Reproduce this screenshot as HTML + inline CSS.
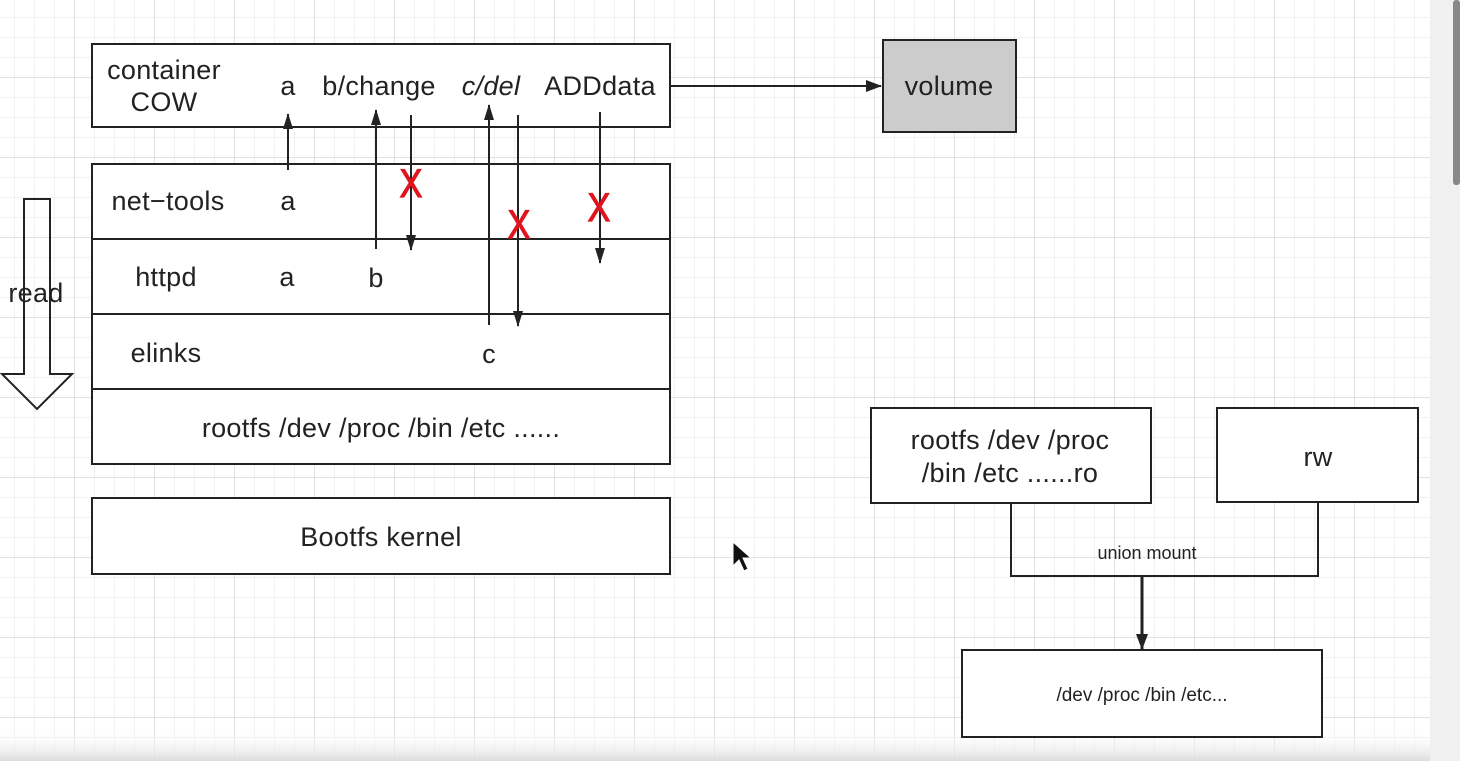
<!DOCTYPE html>
<html><head><meta charset="utf-8"><style>
html,body{margin:0;padding:0;}
body{width:1460px;height:761px;overflow:hidden;background:#fff;font-family:"Liberation Sans",sans-serif;}
svg{position:absolute;left:0;top:0;}
</style></head><body>
<svg width="1460" height="761" viewBox="0 0 1460 761" xmlns="http://www.w3.org/2000/svg">
<defs>
<pattern id="g" width="20" height="20" patternUnits="userSpaceOnUse" x="-5" y="-2">
<path d="M20 0V20M0 20H20" stroke="#e6e6e6" stroke-width="1" fill="none"/>
</pattern>
<pattern id="G" width="80" height="80" patternUnits="userSpaceOnUse" x="-5" y="-2">
<path d="M80 0V80M0 80H80" stroke="#d9d9d9" stroke-width="1.5" fill="none"/>
</pattern>
<linearGradient id="fade" x1="0" y1="0" x2="0" y2="1"><stop offset="0" stop-color="#fff" stop-opacity="0"/><stop offset="1" stop-color="#ddd"/></linearGradient>
<marker id="a" markerWidth="16" markerHeight="12" refX="15" refY="6" orient="auto" markerUnits="userSpaceOnUse"><path d="M0 1L16 6L0 11Z" fill="#222"/></marker>
<marker id="A" markerWidth="16" markerHeight="14" refX="15" refY="7" orient="auto" markerUnits="userSpaceOnUse"><path d="M0 1L16 7L0 13Z" fill="#222"/></marker>
</defs>
<rect width="1460" height="761" fill="url(#g)"/>
<rect width="1460" height="761" fill="url(#G)"/>
<rect x="1430" y="0" width="30" height="761" fill="#f0f0f0"/>
<rect x="1453" y="0" width="7" height="185" fill="#888" rx="3"/>
<rect x="0" y="730" width="1430" height="31" fill="url(#fade)"/>

<g stroke="#222" stroke-width="2" fill="#fff">
<rect x="92" y="44" width="578" height="83"/>
<rect x="92" y="164" width="578" height="300"/>
<line x1="92" y1="239" x2="670" y2="239"/>
<line x1="92" y1="314" x2="670" y2="314"/>
<line x1="92" y1="389" x2="670" y2="389"/>
<rect x="92" y="498" width="578" height="76"/>
<rect x="883" y="40" width="133" height="92" fill="#cccccc"/>
<rect x="871" y="408" width="280" height="95"/>
<rect x="1217" y="408" width="201" height="94"/>
<rect x="962" y="650" width="360" height="87"/>
<path d="M24 199H50V374H72L37 409L2 374H24Z" fill="none"/>
</g>
<g stroke="#222" stroke-width="2" fill="none">
<line x1="670" y1="86" x2="881" y2="86" marker-end="url(#A)"/>
<line x1="288" y1="170" x2="288" y2="114" marker-end="url(#a)"/>
<line x1="376" y1="249" x2="376" y2="110" marker-end="url(#a)"/>
<line x1="411" y1="115" x2="411" y2="250" marker-end="url(#a)"/>
<line x1="489" y1="325" x2="489" y2="105" marker-end="url(#a)"/>
<line x1="518" y1="115" x2="518" y2="326" marker-end="url(#a)"/>
<line x1="600" y1="112" x2="600" y2="263" marker-end="url(#a)"/>
<path d="M1011 503V576H1318V502"/>
<line x1="1142" y1="576" x2="1142" y2="649" stroke-width="3" marker-end="url(#A)"/>
</g>
<g fill="#e0141e" stroke="#e0141e" stroke-width="1.2" font-size="40" text-anchor="middle" font-family="Liberation Sans,sans-serif" transform="scale(0.85,1)">
<text x="483.5" y="197">X</text>
<text x="610.6" y="238">X</text>
<text x="704.7" y="221">X</text>
</g>
<g fill="#222" font-size="27" text-anchor="middle" font-family="Liberation Sans,sans-serif" letter-spacing="0.3">
<text x="164" y="79">container</text>
<text x="164" y="111">COW</text>
<text x="288" y="95">a</text>
<text x="379" y="95">b/change</text>
<text x="491" y="95" font-style="italic">c/del</text>
<text x="600" y="95">ADDdata</text>
<text x="168" y="210">net−tools</text>
<text x="288" y="210">a</text>
<text x="166" y="286">httpd</text>
<text x="287" y="286">a</text>
<text x="376" y="287">b</text>
<text x="166" y="362">elinks</text>
<text x="489" y="363">c</text>
<text x="381" y="437">rootfs /dev /proc /bin /etc ......</text>
<text x="381" y="546">Bootfs kernel</text>
<text x="36" y="302">read</text>
<text x="949" y="95">volume</text>
<text x="1010" y="449">rootfs /dev /proc</text>
<text x="1010" y="482">/bin /etc ......ro</text>
<text x="1318" y="466">rw</text>
<text x="1147" y="559" font-size="18" letter-spacing="0">union mount</text>
<text x="1142" y="701" font-size="19" letter-spacing="0">/dev /proc /bin /etc...</text>
</g>
<path d="M733 542V566L739 560L744 571L748 569L743 558L751 558Z" fill="#111" stroke="#fff" stroke-width="1"/>
</svg>
</body></html>
